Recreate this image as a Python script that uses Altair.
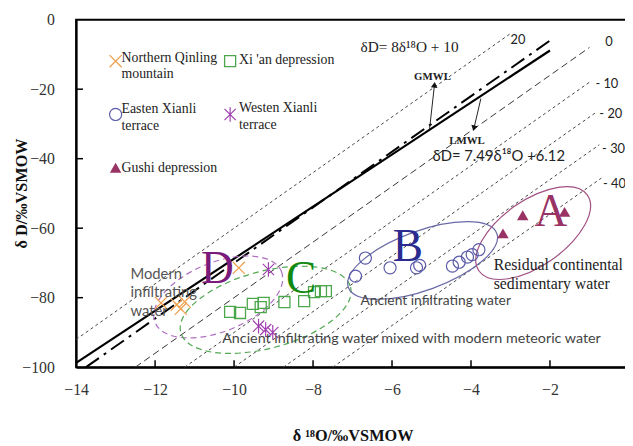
import altair as alt
import pandas as pd

SERIF = "Liberation Serif"
SANS = "Lato"
W, H = 560, 352

# ---------------- data ----------------
nq_x = [-9.88, -11.85, -11.45, -11.35, -11.25]
nq_y = [-71.4, -81.5, -82.0, -83.2, -81.2]

xa_x = [-10.1, -9.85, -9.525, -9.325, -9.25, -8.725, -8.225, -7.975, -7.8, -7.675]
xa_y = [-84.1, -84.4, -81.8, -82.7, -81.5, -81.25, -81.0, -78.4, -78.1, -78.1]

wx_x = [-9.13, -9.38, -9.2, -9.02]
wx_y = [-71.9, -88.2, -89.2, -90.0]

ex_x = [-6.925, -6.675, -6.05, -5.38, -5.3, -4.47, -4.3, -4.09, -3.97, -3.8]
ex_y = [-73.8, -68.6, -71.4, -71.4, -70.7, -70.9, -69.8, -68.3, -67.6, -66.2]

gs_x = [-3.19, -2.69, -1.63]
gs_y = [-61.5, -56.3, -55.3]

x_ticks = [-14, -12, -10, -8, -6, -4, -2, 0]
y_ticks = [0, -20, -40, -60, -80, -100]

# meteoric water lines: slope, intercept, x-range
gmwl = dict(slope=8.0, icpt=10.0, x0=-13.75, x1=-1.9)
lmwl = dict(slope=7.49, icpt=6.12, x0=-14.0, x1=-2.0)

# deuterium-excess reference lines dD = 8*d18O + d
dex_d = [20, 0, -10, -20, -30, -40]
dex_end = [-3.0, -1.0, -1.0, -0.8, -0.75, -0.7]
dex_style = ["dot", "dash", "dot", "dot", "dot", "dot"]
dex_lab = ["20", "0", "- 10", "- 20", "- 30", "- 40"]
dex_lab_x = [-3.0, -0.6, -0.85, -0.75, -0.68, -0.66]
dex_lab_y = [-6.0, -6.5, -18.5, -27.3, -37.2, -47.2]

# ---------------- helpers ----------------
def X(f):
    return alt.X(f, type="quantitative",
                 scale=alt.Scale(domain=[-14, 0], nice=False, zero=False),
                 axis=alt.Axis(values=x_ticks, format="d", tickSize=0, labelFlush=False,
                               labelPadding=15, labelFont=SERIF, labelFontSize=16,
                               labelColor="#333", domainColor="black", domainWidth=2,
                               grid=False, title="δ ¹⁸O/‰VSMOW", titleFont=SERIF,
                               titleFontSize=16.5, titleFontWeight="bold",
                               titlePadding=30, titleColor="#111"))

def Y(f):
    return alt.Y(f, type="quantitative",
                 scale=alt.Scale(domain=[-100, 0], nice=False, zero=False),
                 axis=alt.Axis(values=y_ticks, format="d", tickSize=0, labelPadding=22,
                               labelFont=SERIF, labelFontSize=16, labelColor="#333",
                               domainColor="black", domainWidth=2, grid=False, title=""))

one = pd.DataFrame({"a": [0]})
layers = []

# d-excess lines
rows = []
for d, xe, st in zip(dex_d, dex_end, dex_style):
    x0 = max(-14.0, (-100.0 - d) / 8.0)
    rows.append(dict(x=x0, y=8 * x0 + d, x2=xe, y2=8 * xe + d, st=st))
dex = pd.DataFrame(rows)
layers.append(alt.Chart(dex[dex.st == "dot"]).mark_rule(
    color="#444", strokeWidth=1, strokeDash=[3, 3]).encode(
    x=X("x"), y=Y("y"), x2=alt.X2("x2"), y2=alt.Y2("y2")))
layers.append(alt.Chart(dex[dex.st == "dash"]).mark_rule(
    color="#333", strokeWidth=1, strokeDash=[7, 4]).encode(
    x=X("x"), y=Y("y"), x2=alt.X2("x2"), y2=alt.Y2("y2")))

lab = pd.DataFrame({"x": dex_lab_x, "y": dex_lab_y, "t": dex_lab})
layers.append(alt.Chart(lab).mark_text(align="left", baseline="middle", font=SANS,
                                        fontSize=13, color="#222").encode(
    x=X("x"), y=Y("y"), text="t:N"))

# GMWL / LMWL
def mwl(p):
    return pd.DataFrame(dict(x=[p["x0"]], y=[p["slope"] * p["x0"] + p["icpt"]],
                             x2=[p["x1"]], y2=[p["slope"] * p["x1"] + p["icpt"]]))

layers.append(alt.Chart(mwl(gmwl)).mark_rule(color="black", strokeWidth=2,
                                             strokeDash=[16, 6, 3, 6]).encode(
    x=X("x"), y=Y("y"), x2=alt.X2("x2"), y2=alt.Y2("y2")))
layers.append(alt.Chart(mwl(lmwl)).mark_rule(color="black", strokeWidth=2.2).encode(
    x=X("x"), y=Y("y"), x2=alt.X2("x2"), y2=alt.Y2("y2")))

# ellipses (group outlines) as custom symbols
def ell_path(r):
    k = 0.5523
    f = lambda v: f"{v:.4f}"
    return (f"M1,0C1,{f(k*r)},{f(k)},{f(r)},0,{f(r)}"
            f"C{f(-k)},{f(r)},-1,{f(k*r)},-1,0"
            f"C-1,{f(-k*r)},{f(-k)},{f(-r)},0,{f(-r)}"
            f"C{f(k)},{f(-r)},1,{f(-k*r)},1,0Z")

ellipses = [
    # cx, cy, a(px), b(px), tilt, color, dash
    (-10.4, -79.8, 69, 35, 22, "#b070c0", [6, 4]),
    (-9.2, -83.5, 89, 39, 15, "#50a850", [6, 4]),
    (-5.225, -69.3, 80, 30, 20, "#6a6aa8", None),
    (-2.425, -61.4, 67, 33, 35, "#a05080", None),
]
for cx, cy, a, b, tilt, col, dash in ellipses:
    kw = dict(shape=ell_path(b / a), size=4 * a * a, angle=360 - tilt, filled=False,
              stroke=col, strokeWidth=1.2, opacity=1)
    if dash:
        kw["strokeDash"] = dash
    layers.append(alt.Chart(pd.DataFrame({"x": [cx], "y": [cy]})).mark_point(**kw).encode(
        x=X("x"), y=Y("y")))

# scatter groups
CROSS = "M-1,-1L1,1M-1,1L1,-1"
STAR = "M-1,-1L1,1M-1,1L1,-1M0,-1.3L0,1.3"
groups = [
    ("Northern Qinling mountain", nq_x, nq_y, dict(shape=CROSS, size=150, filled=False,
                                                   stroke="#f0a050", strokeWidth=1.3)),
    ("Xi 'an depression", xa_x, xa_y, dict(shape="square", size=125, filled=False,
                                           stroke="#4ca64c", strokeWidth=1.3)),
    ("Westen Xianli terrace", wx_x, wx_y, dict(shape=STAR, size=130, filled=False,
                                               stroke="#a040b0", strokeWidth=1.2)),
    ("Easten Xianli terrace", ex_x, ex_y, dict(shape="circle", size=150, filled=False,
                                               stroke="#5a5aa8", strokeWidth=1.2)),
    ("Gushi depression", gs_x, gs_y, dict(shape="triangle-up", size=135, filled=True,
                                          fill="#993366", strokeWidth=0)),
]
for name, gx, gy, kw in groups:
    layers.append(alt.Chart(pd.DataFrame({"x": gx, "y": gy})).mark_point(
        opacity=1, **kw).encode(x=X("x"), y=Y("y")))

# region letters
letters = pd.DataFrame({"x": [-10.425, -8.3, -5.6, -1.975], "y": [-71.9, -74.7, -65.6, -55.4],
                        "t": ["D", "C", "B", "A"],
                        "c": ["#7a1a7a", "#108a10", "#2b2b8f", "#993366"]})
layers.append(alt.Chart(letters).mark_text(font=SERIF, fontSize=46, baseline="middle",
                                            align="center").encode(
    x=X("x"), y=Y("y"), text="t:N", color=alt.Color("c:N", scale=None)))

# annotations
def txt(rows_, **kw):
    df = pd.DataFrame(rows_, columns=["x", "y", "t"])
    base = dict(align="left", baseline="middle")
    base.update(kw)
    return alt.Chart(df).mark_text(**base).encode(x=X("x"), y=Y("y"), text="t:N")

layers.append(txt([(-12.625, -73.3, "Modern"), (-12.625, -78.4, "infiltrating"),
                   (-12.625, -83.8, "water")], font=SANS, fontSize=15, color="#555"))
layers.append(txt([(-6.8, -81.0, "Ancient infiltrating water")], font=SANS, fontSize=14,
                  color="#444"))
layers.append(txt([(-10.3, -91.8, "Ancient infiltrating water mixed with modern meteoric water")],
                  font=SANS, fontSize=14.5, color="#444"))
layers.append(txt([(-3.425, -70.5, "Residual continental"), (-3.425, -76.1, "sedimentary water")],
                  font=SERIF, fontSize=16, color="#222"))
layers.append(txt([(-6.8, -7.95, "δD= 8δ¹⁸O + 10")], font=SERIF, fontSize=15.5, color="#222"))
layers.append(txt([(-4.975, -39.2, "δD= 7.49δ¹⁸O +6.12")], font=SANS, fontSize=15, color="#222"))
layers.append(txt([(-4.975, -16.5, "GMWL"), (-4.1, -34.9, "LMWL")], align="center",
                  font=SERIF, fontSize=11, fontWeight="bold", color="#222"))

# arrows
arrows = pd.DataFrame({"x": [-5.05, -3.75], "y": [-31.5, -22.7],
                       "x2": [-4.925, -3.925], "y2": [-18.75, -31.25], "ang": [6, 193]})
layers.append(alt.Chart(arrows).mark_rule(color="#222", strokeWidth=1).encode(
    x=X("x"), y=Y("y"), x2=alt.X2("x2"), y2=alt.Y2("y2")))
layers.append(alt.Chart(arrows).mark_point(shape="triangle-up", filled=True, fill="#111",
                                           size=45, opacity=1, strokeWidth=0).encode(
    x=X("x2"), y=Y("y2"), angle=alt.Angle("ang:Q", scale=None)))

# inward ticks
layers.append(alt.Chart(pd.DataFrame({"v": x_ticks[1:-1]})).mark_rule(
    color="black", strokeWidth=1.5).encode(x=X("v"), y=alt.value(H), y2=alt.value(H - 7)))
layers.append(alt.Chart(pd.DataFrame({"v": y_ticks[1:-1]})).mark_rule(
    color="black", strokeWidth=1.5).encode(y=Y("v"), x=alt.value(0), x2=alt.value(7)))

# y title
layers.append(alt.Chart(one).mark_text(text="δ D/‰VSMOW", angle=270, font=SERIF, fontSize=16.5,
                                       fontWeight="bold", color="#111", baseline="middle",
                                       align="center").encode(
    x=alt.value(-55), y=alt.value(H / 2)))

# legend (manual, inside plot)
leg_marks = [
    (40, 42, groups[0][3]),
    (156, 42, groups[1][3]),
    (40, 96, groups[3][3]),
    (156, 96, groups[2][3]),
    (40, 150, groups[4][3]),
]
for lx, ly, kw in leg_marks:
    layers.append(alt.Chart(one).mark_point(opacity=1, **kw).encode(
        x=alt.value(lx), y=alt.value(ly)))
leg_text = [
    (46, 39, "Northern Qinling"), (46, 55, "mountain"),
    (165, 41, "Xi 'an depression"),
    (46, 91, "Easten Xianli"), (46, 108, "terrace"),
    (165, 90, "Westen Xianli"), (165, 107, "terrace"),
    (46, 150, "Gushi depression"),
]
for lx, ly, t in leg_text:
    layers.append(alt.Chart(one).mark_text(text=t, align="left", baseline="middle", font=SERIF,
                                           fontSize=14, color="#222").encode(
        x=alt.value(lx), y=alt.value(ly)))

chart = alt.layer(*layers).properties(
    width=W, height=H,
    autosize=alt.AutoSizeParams(type="none"),
    padding={"left": 69, "top": 9, "right": -4, "bottom": 76},
).configure_view(stroke="black", strokeWidth=2)

chart.save("out.html", embed_options={"renderer": "svg", "actions": False})
